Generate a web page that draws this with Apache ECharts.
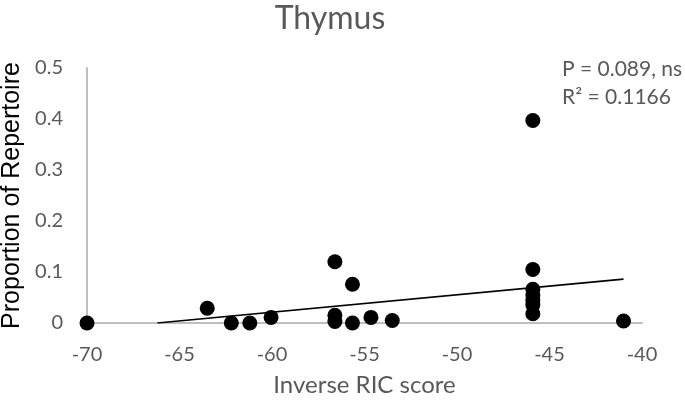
<!DOCTYPE html>
<html>
<head>
<meta charset="utf-8">
<script src="https://cdn.jsdelivr.net/npm/echarts@6/dist/echarts.min.js"></script>
<style>
html,body{margin:0;padding:0;background:#fff;}
#chart{width:685px;height:401px;}
</style>
</head>
<body>
<div id="chart"></div>
<script>
// Data
var xValues = [-70, -63.5, -62.2, -61.2, -60.05, -56.6, -56.6, -56.6, -55.65, -55.65, -54.65, -53.5, -45.9, -45.9, -45.9, -45.9, -45.9, -45.9, -45.9, -41.0];
var yValues = [0, 0.029, 0, 0, 0.011, 0.12, 0.015, 0.003, 0.076, 0.0, 0.011, 0.005, 0.397, 0.105, 0.066, 0.055, 0.045, 0.036, 0.018, 0.004];
var trendX = [-66.2, -41.0];
var trendY = [0, 0.086];
var xTicks = [-70, -65, -60, -55, -50, -45, -40];
var yTicks = [0, 0.1, 0.2, 0.3, 0.4, 0.5];
var titleText = 'Thymus';
var xName = 'Inverse RIC score';
var yName = 'Proportion of Repertoire';
var annotation = ['P = 0.089, ns', 'R\u00B2 = 0.1166'];

var points = xValues.map(function (x, i) { return [x, yValues[i]]; });
var trend = trendX.map(function (x, i) { return [x, trendY[i]]; });

var chart = echarts.init(document.getElementById('chart'), null, {renderer: 'canvas'});
var grey = '#595959';
chart.setOption({
  animation: false,
  backgroundColor: '#ffffff',
  title: {
    text: titleText,
    left: 325, top: -2, textAlign: 'center',
    textStyle: {fontFamily: 'Lato', fontSize: 32, fontWeight: 'normal', color: grey}
  },
  grid: {left: 87, right: 43, top: 68, bottom: 78, containLabel: false, outerBoundsMode: 'none'},
  xAxis: {
    type: 'value', min: xTicks[0], max: xTicks[xTicks.length - 1], interval: 5,
    name: xName, nameLocation: 'middle', nameGap: 50,
    nameTextStyle: {fontFamily: 'Lato', fontSize: 24, color: grey},
    axisLine: {show: true, onZero: false, lineStyle: {color: '#bfbfbf', width: 2}},
    axisTick: {show: false},
    splitLine: {show: false},
    axisLabel: {fontFamily: 'Lato', fontSize: 20, color: grey, margin: 22}
  },
  yAxis: {
    type: 'value', min: yTicks[0], max: yTicks[yTicks.length - 1], interval: 0.1,
    name: yName, nameLocation: 'middle', nameGap: 62, nameRotate: 90,
    nameTextStyle: {fontFamily: 'Liberation Sans', fontSize: 25, color: '#000000'},
    axisLine: {show: true, onZero: false, lineStyle: {color: '#bfbfbf', width: 2}},
    axisTick: {show: false},
    splitLine: {show: false},
    axisLabel: {fontFamily: 'Lato', fontSize: 20, color: grey, margin: 24,
      formatter: function (v) { return String(Math.round(v * 10) / 10); }}
  },
  graphic: [
    {type: 'text', left: 562, top: 59, style: {text: annotation[0], font: '21px Lato', fill: grey}},
    {type: 'text', left: 562, top: 87, style: {text: annotation[1], font: '21px Lato', fill: grey}}
  ],
  series: [
    {
      type: 'line', data: trend, showSymbol: false, symbol: 'none',
      lineStyle: {color: '#000000', width: 1.6}, z: 3, silent: true
    },
    {
      type: 'scatter', data: points, symbol: 'circle', symbolSize: 15,
      itemStyle: {color: '#000000', opacity: 1}, z: 4
    }
  ]
});
</script>
</body>
</html>
